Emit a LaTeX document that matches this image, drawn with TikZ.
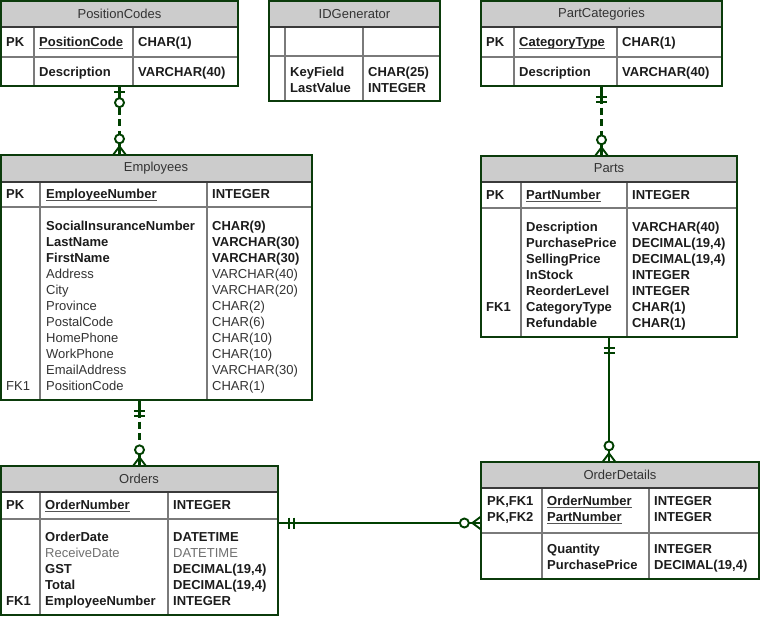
\documentclass[tikz,border=0pt]{standalone}
\usepackage{fontspec}
\setmainfont{Liberation Sans}
\usetikzlibrary{fit,calc}
\definecolor{lnk}{HTML}{004000}
\definecolor{framecol}{HTML}{0B3B0B}
\definecolor{gridcol}{HTML}{7A7A7A}
\definecolor{hdrcol}{HTML}{3A3A3A}
\definecolor{bandcol}{HTML}{CCCCCC}
\definecolor{txtbold}{HTML}{1C1C1C}
\definecolor{txtreg}{HTML}{333333}
\definecolor{txtgray}{HTML}{707070}
\definecolor{ulcol}{HTML}{555555}
\newsavebox\pkulbox
\newcommand\pkname[1]{\sbox\pkulbox{#1}\usebox\pkulbox\llap{\textcolor{ulcol}{\rule[-2.4pt]{\wd\pkulbox}{1.1pt}}}}
\tikzset{
  x=1pt, y=-1pt,
  frm/.style={draw=framecol, line width=1.3pt, inner sep=0pt},
  gridline/.style={draw=gridcol, line width=1.3pt},
  hdrline/.style={draw=hdrcol, line width=1.3pt},
  ttl/.style={font=\fontsize{13}{15}\selectfont, text=txtreg, inner sep=0pt},
  cell/.style={anchor=base west, yshift=-4.6pt, inner sep=0pt, font=\fontsize{13}{15}\selectfont\bfseries, text=txtbold},
  cellr/.style={cell, font=\fontsize{13}{15}\selectfont, text=txtreg},
  cellg/.style={cell, font=\fontsize{13}{15}\selectfont, text=txtgray},
  rel/.style={draw=lnk, line width=2.3pt},
  reldash/.style={rel, dash pattern=on 7pt off 4.5pt},
  relsolid/.style={draw=lnk, line width=2pt},
  barline/.style={draw=lnk, line width=1.9pt},
  ring/.style={draw=lnk, line width=1.9pt, fill=white},
}
% table frame: name, x1, y1, x2, y2, colA, colB, title bottom, key bottom
\newcommand\erdtable[9]{%
  \fill[bandcol] (#2,#3) rectangle (#4,#8);
  \draw[gridline] (#2,#9) -- (#4,#9);
  \draw[gridline] (#6,#8) -- (#6,#5);
  \draw[gridline] (#7,#8) -- (#7,#5);
  \draw[hdrline] (#2,#8) -- (#4,#8);
  \node[frm, fit={(#2,#3) (#4,#5)}] (#1) {};
}
% vertical markers
\newcommand\mkZeroOneV[1]{%
  \draw[barline] ($(#1)+(-5.5,5)$) -- ($(#1)+(5.5,5)$);
  \draw[ring] ($(#1)+(0,16)$) circle[radius=4.5pt];}
\newcommand\mkOneOneV[1]{%
  \draw[barline] ($(#1)+(-5.5,10)$) -- ($(#1)+(5.5,10)$);
  \draw[barline] ($(#1)+(-5.5,15)$) -- ($(#1)+(5.5,15)$);}
\newcommand\mkZeroManyV[1]{%
  \draw[barline] ($(#1)+(0,-8)$) -- ($(#1)+(-6,0)$);
  \draw[barline] ($(#1)+(0,-8)$) -- ($(#1)+(6,0)$);
  \draw[ring] ($(#1)+(0,-15.5)$) circle[radius=4.5pt];}
\begin{document}
\begin{tikzpicture}
\fill[white] (0,0) rectangle (760,616);
\useasboundingbox (0,0) rectangle (760,616);

% ---------------- PositionCodes
\erdtable{pc}{1}{1}{238}{86}{34}{133}{27}{57}
\node[ttl] (pc-title) at (119.5,14) {PositionCodes};
\node[cell] (pc-k) at (6,42) {PK};
\node[cell] (pc-n1) at (39,42) {\pkname{PositionCode}};
\node[cell] (pc-t1) at (138,42) {CHAR(1)};
\node[cell] (pc-n2) at (39,72) {Description};
\node[cell] (pc-t2) at (138,72) {VARCHAR(40)};

% ---------------- IDGenerator
\erdtable{idg}{269}{1}{440}{101}{285}{363}{27}{56}
\node[ttl] (idg-title) at (354.5,14) {IDGenerator};
\node[cell] (idg-n1) at (290,72) {KeyField};
\node[cell] (idg-t1) at (368,72) {CHAR(25)};
\node[cell] (idg-n2) at (290,88) {LastValue};
\node[cell] (idg-t2) at (368,88) {INTEGER};

% ---------------- PartCategories
\erdtable{pcat}{481}{1}{722}{86}{514}{617}{27}{57}
\node[ttl] (pcat-title) at (601.5,14) {PartCategories};
\node[cell] (pcat-k) at (486,42) {PK};
\node[cell] (pcat-n1) at (519,42) {\pkname{CategoryType}};
\node[cell] (pcat-t1) at (622,42) {CHAR(1)};
\node[cell] (pcat-n2) at (519,72) {Description};
\node[cell] (pcat-t2) at (622,72) {VARCHAR(40)};

% ---------------- Employees
\erdtable{emp}{1}{155}{312}{400}{40}{207}{182}{207}
\node[ttl] (emp-title) at (156,168) {Employees};
\node[cell] (emp-k) at (6,194) {PK};
\node[cell] (emp-n0) at (46,194) {\pkname{EmployeeNumber}};
\node[cell] (emp-t0) at (212,194) {INTEGER};
\foreach \n/\t [count=\i, evaluate=\i as \yy using 226+16*(\i-1)] in
  {SocialInsuranceNumber/CHAR(9), LastName/VARCHAR(30), FirstName/VARCHAR(30)}{
  \node[cell] (emp-nb\i) at (46,\yy) {\n};
  \node[cell] (emp-tb\i) at (212,\yy) {\t};
}
\foreach \n/\t [count=\i, evaluate=\i as \yy using 274+16*(\i-1)] in
  {Address/VARCHAR(40), City/VARCHAR(20), Province/CHAR(2), PostalCode/CHAR(6),
   HomePhone/CHAR(10), WorkPhone/CHAR(10), EmailAddress/VARCHAR(30), PositionCode/CHAR(1)}{
  \node[cellr] (emp-nr\i) at (46,\yy) {\n};
  \node[cellr] (emp-tr\i) at (212,\yy) {\t};
}
\node[cellr] (emp-fk) at (6,386) {FK1};

% ---------------- Parts
\erdtable{parts}{481}{156}{737}{337}{521}{627}{182}{208}
\node[ttl] (parts-title) at (609,168.5) {Parts};
\node[cell] (parts-k) at (486,195) {PK};
\node[cell] (parts-n0) at (526,195) {\pkname{PartNumber}};
\node[cell] (parts-t0) at (632,195) {INTEGER};
\foreach \n/\t [count=\i, evaluate=\i as \yy using 227+16*(\i-1)] in
  {Description/VARCHAR(40), PurchasePrice/{DECIMAL(19,4)}, SellingPrice/{DECIMAL(19,4)},
   InStock/INTEGER, ReorderLevel/INTEGER, CategoryType/CHAR(1), Refundable/CHAR(1)}{
  \node[cell] (parts-n\i) at (526,\yy) {\n};
  \node[cell] (parts-t\i) at (632,\yy) {\t};
}
\node[cell] (parts-fk) at (486,307) {FK1};

% ---------------- Orders
\erdtable{ord}{1}{466}{278}{615}{40}{168}{492}{519}
\node[ttl] (ord-title) at (139,479) {Orders};
\node[cell] (ord-k) at (6,505) {PK};
\node[cell] (ord-n0) at (45,505) {\pkname{OrderNumber}};
\node[cell] (ord-t0) at (173,505) {INTEGER};
\node[cell] (ord-n1) at (45,537) {OrderDate};
\node[cell] (ord-t1) at (173,537) {DATETIME};
\node[cellg] (ord-n2) at (45,553) {ReceiveDate};
\node[cellg] (ord-t2) at (173,553) {DATETIME};
\node[cell] (ord-n3) at (45,569) {GST};
\node[cell] (ord-t3) at (173,569) {DECIMAL(19,4)};
\node[cell] (ord-n4) at (45,585) {Total};
\node[cell] (ord-t4) at (173,585) {DECIMAL(19,4)};
\node[cell] (ord-n5) at (45,601) {EmployeeNumber};
\node[cell] (ord-t5) at (173,601) {INTEGER};
\node[cell] (ord-fk) at (6,601) {FK1};

% ---------------- OrderDetails
\erdtable{od}{481}{462}{759}{579}{542}{649}{488}{533}
\node[ttl] (od-title) at (620,475) {OrderDetails};
\node[cell] (od-k1) at (487,501) {PK,FK1};
\node[cell] (od-k2) at (487,517) {PK,FK2};
\node[cell] (od-n1) at (547,501) {\pkname{OrderNumber}};
\node[cell] (od-t1) at (654,501) {INTEGER};
\node[cell] (od-n2) at (547,517) {\pkname{PartNumber}};
\node[cell] (od-t2) at (654,517) {INTEGER};
\node[cell] (od-n3) at (547,549) {Quantity};
\node[cell] (od-t3) at (654,549) {INTEGER};
\node[cell] (od-n4) at (547,565) {PurchasePrice};
\node[cell] (od-t4) at (654,565) {DECIMAL(19,4)};

% ---------------- Relationships
% PositionCodes -> Employees
\coordinate (r1s) at (pc.south);
\coordinate (r1t) at (pc.south |- emp.north);
\draw[rel] (r1s) -- ($(r1s)+(0,18)$);
\draw[reldash] ($(r1s)+(0,21)$) -- ($(r1t)+(0,-18)$);
\draw[rel] ($(r1t)+(0,-16)$) -- (r1t);
\mkZeroOneV{r1s}
\mkZeroManyV{r1t}

% Employees -> Orders
\coordinate (r2t) at (ord.north);
\coordinate (r2s) at (ord.north |- emp.south);
\draw[rel] (r2s) -- ($(r2s)+(0,17)$);
\draw[reldash] ($(r2s)+(0,21)$) -- ($(r2t)+(0,-18)$);
\draw[rel] ($(r2t)+(0,-16)$) -- (r2t);
\mkOneOneV{r2s}
\mkZeroManyV{r2t}

% PartCategories -> Parts
\coordinate (r3s) at (pcat.south);
\coordinate (r3t) at (pcat.south |- parts.north);
\draw[rel] (r3s) -- ($(r3s)+(0,17)$);
\draw[reldash] ($(r3s)+(0,21)$) -- ($(r3t)+(0,-18)$);
\draw[rel] ($(r3t)+(0,-16)$) -- (r3t);
\mkOneOneV{r3s}
\mkZeroManyV{r3t}

% Parts -> OrderDetails
\coordinate (r4s) at (parts.south);
\coordinate (r4t) at (parts.south |- od.north);
\draw[relsolid] (r4s) -- (r4t);
\mkOneOneV{r4s}
\mkZeroManyV{r4t}

% Orders -> OrderDetails
\coordinate (r5t) at ([yshift=-2.5pt]od.west);
\coordinate (r5s) at (ord.east |- r5t);
\draw[rel] (r5s) -- (r5t);
\draw[barline] ($(r5s)+(10,-5.5)$) -- ($(r5s)+(10,5.5)$);
\draw[barline] ($(r5s)+(15,-5.5)$) -- ($(r5s)+(15,5.5)$);
\draw[barline] ($(r5t)+(-8,0)$) -- ($(r5t)+(0,-6)$);
\draw[barline] ($(r5t)+(-8,0)$) -- ($(r5t)+(0,6)$);
\draw[ring] ($(r5t)+(-16,0)$) circle[radius=4.5pt];
\end{tikzpicture}
\end{document}
